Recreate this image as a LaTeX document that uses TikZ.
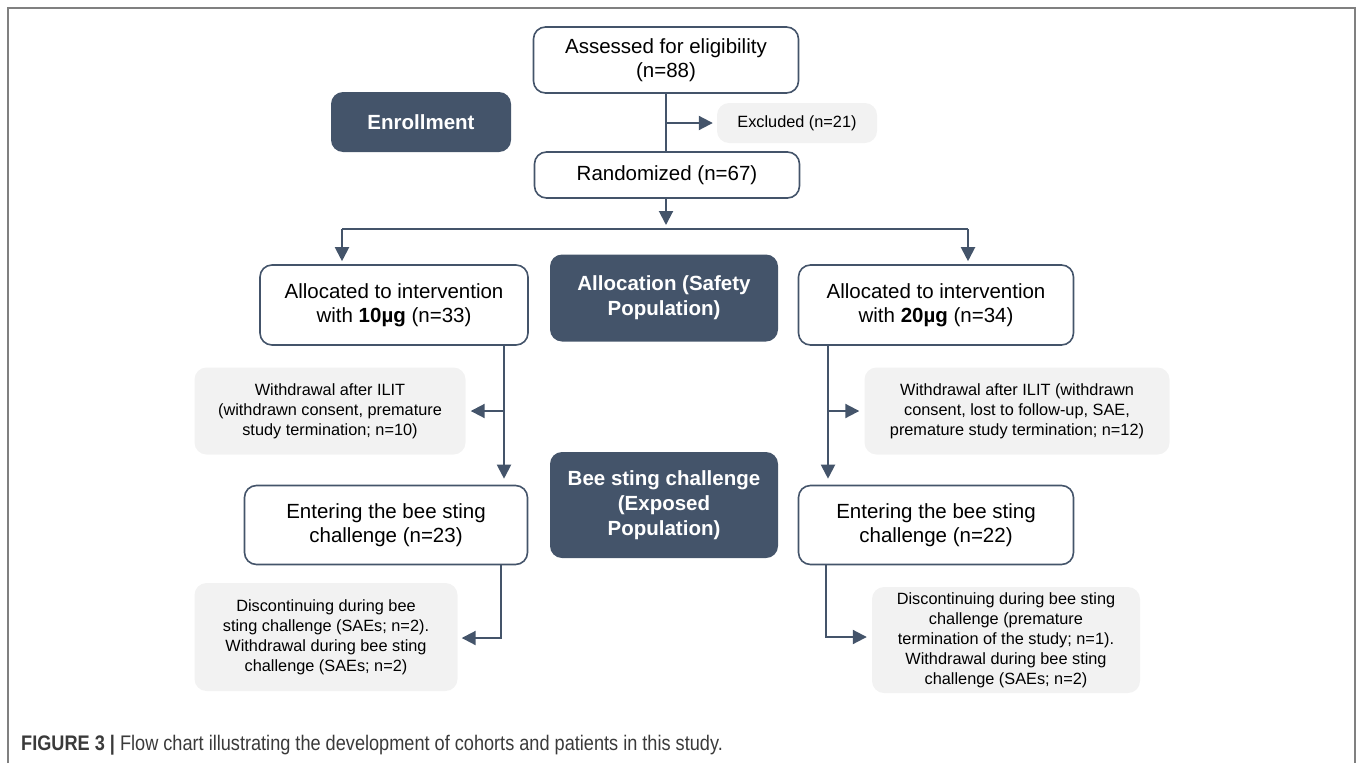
\documentclass[tikz,border=0pt]{standalone}
\usepackage{fontspec}
\setmainfont{Liberation Sans}
\usepackage{graphicx}
\usetikzlibrary{arrows.meta}
\definecolor{slate}{HTML}{44546A}
\definecolor{lightbox}{HTML}{F2F2F2}
\definecolor{framegray}{HTML}{808080}
\definecolor{captiongray}{HTML}{3A3A3A}
\begin{document}
\begin{tikzpicture}[x=1pt,y=-1pt,
  whitebox/.style={draw=slate, line width=1.6pt, fill=white, rounded corners=12pt, align=center, inner sep=0pt, text=black, font=\fontsize{20.5}{24}\selectfont},
  darkbox/.style={fill=slate, text=white, rounded corners=12pt, align=center, inner sep=0pt, font=\fontsize{20.5}{25}\selectfont\bfseries},
  greybox/.style={fill=lightbox, rounded corners=12pt, align=center, inner sep=0pt, text=black, font=\fontsize{16.3}{20}\selectfont},
  conn/.style={draw=slate, line width=2pt},
  arr/.style={conn, -{Triangle[length=14pt,width=14pt]}},
]
\useasboundingbox (0,0) rectangle (1357,763);
\draw[framegray, line width=2pt] (8,763) -- (8,8) -- (1355,8) -- (1355,763);

% top
\node[whitebox, minimum width=265pt, minimum height=66pt] (assess) at (666,60) {Assessed for eligibility\\(n=88)};
\node[darkbox, minimum width=180pt, minimum height=60pt] (enroll) at (421,122) {Enrollment};
\node[greybox, minimum width=160pt, minimum height=40pt] (excl) at (797,123) {Excluded (n=21)};
\node[whitebox, minimum width=265pt, minimum height=46pt] (rand) at (667,175) {Randomized (n=67)};

% allocation
\node[whitebox, minimum width=268pt, minimum height=80pt] (allocL) at (394,305) {Allocated to intervention\\with \textbf{10µg} (n=33)};
\node[darkbox, minimum width=228pt, minimum height=87pt] (allocD) at (664,298) {Allocation (Safety\\Population)};
\node[whitebox, minimum width=275pt, minimum height=80pt] (allocR) at (936,305) {Allocated to intervention\\with \textbf{20µg} (n=34)};

% withdrawals
\node[greybox, minimum width=271pt, minimum height=87pt] (wdL) at (330,411) {Withdrawal after ILIT\\(withdrawn consent, premature\\study termination; n=10)};
\node[greybox, minimum width=305pt, minimum height=87pt] (wdR) at (1017,411) {Withdrawal after ILIT (withdrawn\\consent, lost to follow-up, SAE,\\premature study termination; n=12)};

% bee sting
\node[whitebox, minimum width=283pt, minimum height=79pt] (entL) at (386,525) {Entering the bee sting\\challenge (n=23)};
\node[darkbox, minimum width=228pt, minimum height=106pt] (beeD) at (664,505) {Bee sting challenge\\(Exposed\\Population)};
\node[whitebox, minimum width=275pt, minimum height=79pt] (entR) at (936,525) {Entering the bee sting\\challenge (n=22)};

% discontinued
\node[greybox, minimum width=263pt, minimum height=108pt] (discL) at (326,637) {Discontinuing during bee\\sting challenge (SAEs; n=2).\\Withdrawal during bee sting\\challenge (SAEs; n=2)};
\node[greybox, minimum width=268pt, minimum height=106pt] (discR) at (1006,640) {Discontinuing during bee sting\\challenge (premature\\termination of the study; n=1).\\Withdrawal during bee sting\\challenge (SAEs; n=2)};

% caption
\node[anchor=west, inner sep=0pt, text=captiongray] (cap) at (21,745) {\scalebox{0.86}[1]{\fontsize{21.1}{25}\selectfont\textbf{FIGURE 3 |} Flow chart illustrating the development of cohorts and patients in this study.}};

% connectors
\coordinate (split) at (666,229);
\coordinate (bl) at (342,229);
\coordinate (br) at (968,229);
\coordinate (lv) at (504,0);
\coordinate (rv) at (828,0);
\coordinate (lw) at (501,638);
\coordinate (rw) at (826,637);

\draw[conn] (assess.south) -- (assess.south |- rand.north);
\draw[arr, shorten >=4pt] (assess.south |- excl.west) -- (excl.west);
\draw[arr, shorten >=4pt] (rand.south -| split) -- (split);
\draw[conn] (bl) -- (br);
\draw[arr, shorten >=3pt] (bl) -- (bl |- allocL.north);
\draw[arr, shorten >=3pt] (br) -- (br |- allocR.north);

\draw[arr, shorten >=6pt] (lv |- allocL.south) -- (lv |- entL.north);
\draw[arr, shorten >=5pt] (lv |- wdL.east) -- (wdL.east);
\draw[arr, shorten >=6pt] (rv |- allocR.south) -- (rv |- entR.north);
\draw[arr, shorten >=5pt] (rv |- wdR.west) -- (wdR.west);

\draw[arr, shorten >=4pt] (lw |- entL.south) -- (lw) -- (discL.east |- lw);
\draw[arr, shorten >=5pt] (rw |- entR.south) -- (rw) -- (discR.west |- rw);
\end{tikzpicture}
\end{document}
